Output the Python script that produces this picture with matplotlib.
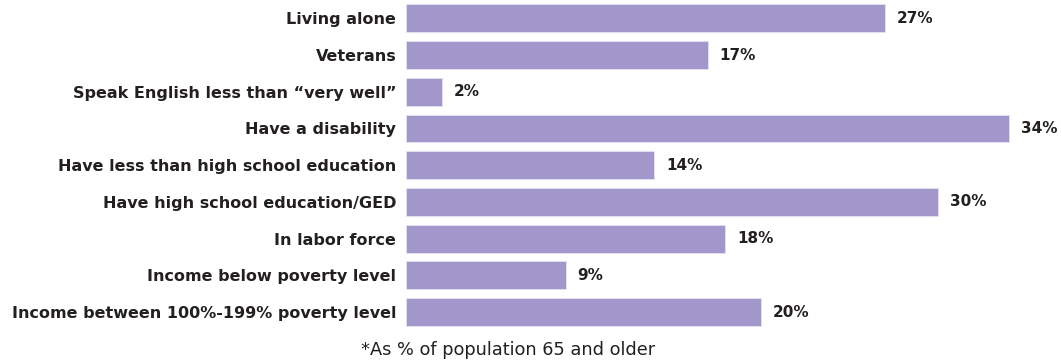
import matplotlib.pyplot as plt

categories = [
    "Living alone",
    "Veterans",
    "Speak English less than \u201cvery well\u201d",
    "Have a disability",
    "Have less than high school education",
    "Have high school education/GED",
    "In labor force",
    "Income below poverty level",
    "Income between 100%-199% poverty level",
]
values = [27, 17, 2, 34, 14, 30, 18, 9, 20]
footnote = "*As % of population 65 and older"

bar_color = "#A197CA"
text_color = "#231F20"

fig = plt.figure(figsize=(10.61, 3.61), dpi=100)
ax = fig.add_axes([0.3827, 0.0848, 0.6019, 0.9152])

y = list(range(len(categories)))
ax.barh(y, values, height=0.76, color=bar_color, edgecolor="#E6E2F2", linewidth=0.6)
ax.set_xlim(0, 36)
ax.set_ylim(len(categories) - 0.5, -0.5)

for yi, v in zip(y, values):
    ax.annotate(f"{v}%", (v, yi), xytext=(8.5, 0), textcoords="offset points",
                va="center", ha="left", fontsize=11, fontweight="bold",
                color=text_color)

ax.set_yticks(y)
ax.set_yticklabels(categories, fontsize=11.5, fontweight="bold", color=text_color)
ax.tick_params(axis="y", length=0, pad=7)
ax.set_xticks([])
for s in ax.spines.values():
    s.set_visible(False)

fig.text(0.479, 0.03, footnote, ha="center", va="center", fontsize=12.8, color=text_color)

fig.savefig("out.png", dpi=100)
